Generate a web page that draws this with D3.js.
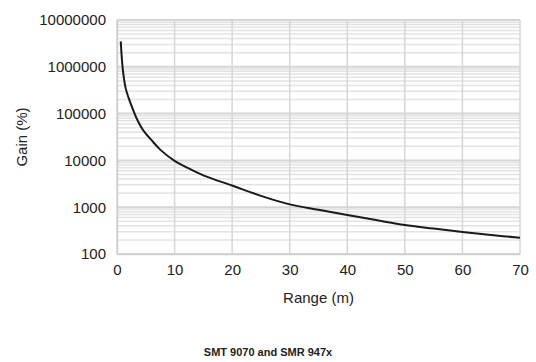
<!DOCTYPE html>
<html>
<head>
<meta charset="utf-8">
<script src="https://cdn.jsdelivr.net/npm/d3@7"></script>
<style>
body { margin: 0; background: #fff; }
text { font-family: "Liberation Sans", Arial, sans-serif; fill: #222; }
</style>
</head>
<body>
<div id="chart"></div>
<script>
var rangeM = [0.65, 1, 1.5, 2, 2.8, 3.5, 4.5, 6, 7.5, 10, 12, 15, 20, 25, 30, 35, 40, 45, 50, 55, 60, 65, 70];
var gainPct = [3500000, 900000, 350000, 220000, 120000, 75000, 45000, 27000, 17000, 9800, 7200, 4800, 2900, 1750, 1150, 880, 680, 530, 415, 350, 295, 255, 222];
var xTicks = [0, 10, 20, 30, 40, 50, 60, 70];
var yTicks = [100, 1000, 10000, 100000, 1000000, 10000000];

(function () {
	var w = 536, h = 362;
	var pLeft = 117, pRight = 520, pTop = 20, pBottom = 254;

	var svg = d3.select('#chart').append('svg')
		.attr('width', w)
		.attr('height', h);

	var x = d3.scaleLinear().domain([0, 70]).range([pLeft, pRight]);
	var y = d3.scaleLog().domain([100, 10000000]).range([pBottom, pTop]);

	// minor log grid
	var minor = [];
	for (var e = 2; e < 7; e++) {
		for (var m = 2; m <= 9; m++) minor.push(m * Math.pow(10, e));
	}
	svg.append('g').selectAll('line').data(minor).enter().append('line')
		.attr('x1', pLeft).attr('x2', pRight)
		.attr('y1', function (d) { return y(d); })
		.attr('y2', function (d) { return y(d); })
		.attr('stroke', '#e3e3e3')
		.attr('stroke-width', 1.5);

	svg.append('g').selectAll('line').data(yTicks).enter().append('line')
		.attr('x1', pLeft).attr('x2', pRight)
		.attr('y1', function (d) { return y(d); })
		.attr('y2', function (d) { return y(d); })
		.attr('stroke', '#d6d6d6')
		.attr('stroke-width', 2);

	svg.append('g').selectAll('line').data(xTicks).enter().append('line')
		.attr('y1', pTop).attr('y2', pBottom)
		.attr('x1', function (d) { return x(d); })
		.attr('x2', function (d) { return x(d); })
		.attr('stroke', '#d6d6d6')
		.attr('stroke-width', 1.5);

	// axes
	var xAxis = svg.append('g')
		.attr('transform', 'translate(0,' + pBottom + ')')
		.call(d3.axisBottom(x).tickValues(xTicks).tickSize(0).tickPadding(10));
	var yAxis = svg.append('g')
		.attr('transform', 'translate(' + pLeft + ',0)')
		.call(d3.axisLeft(y).tickValues(yTicks).tickFormat(d3.format('d')).tickSize(0).tickPadding(11));
	[xAxis, yAxis].forEach(function (g) {
		g.select('.domain').attr('stroke', '#cfcfcf').attr('stroke-width', 1.5);
		g.selectAll('text').attr('font-size', '15px').attr('fill', '#222')
			.attr('font-family', '"Liberation Sans", Arial, sans-serif');
	});

	var lineFn = d3.line()
		.x(function (d, i) { return x(rangeM[i]); })
		.y(function (d) { return y(d); })
		.curve(d3.curveCatmullRom);

	svg.append('path')
		.attr('d', lineFn(gainPct))
		.attr('fill', 'none')
		.attr('stroke', '#1a1a1a')
		.attr('stroke-width', 2);

	svg.append('text')
		.attr('x', (pLeft + pRight) / 2)
		.attr('y', 303)
		.attr('text-anchor', 'middle')
		.attr('font-size', '15px')
		.text('Range (m)');

	svg.append('text')
		.attr('transform', 'translate(27,' + (pTop + pBottom) / 2 + ') rotate(-90)')
		.attr('text-anchor', 'middle')
		.attr('font-size', '15px')
		.text('Gain (%)');

	svg.append('text')
		.attr('x', 268)
		.attr('y', 356)
		.attr('text-anchor', 'middle')
		.attr('font-size', '11px')
		.attr('font-weight', 'bold')
		.text('SMT 9070 and SMR 947x');
})();
</script>
</body>
</html>
